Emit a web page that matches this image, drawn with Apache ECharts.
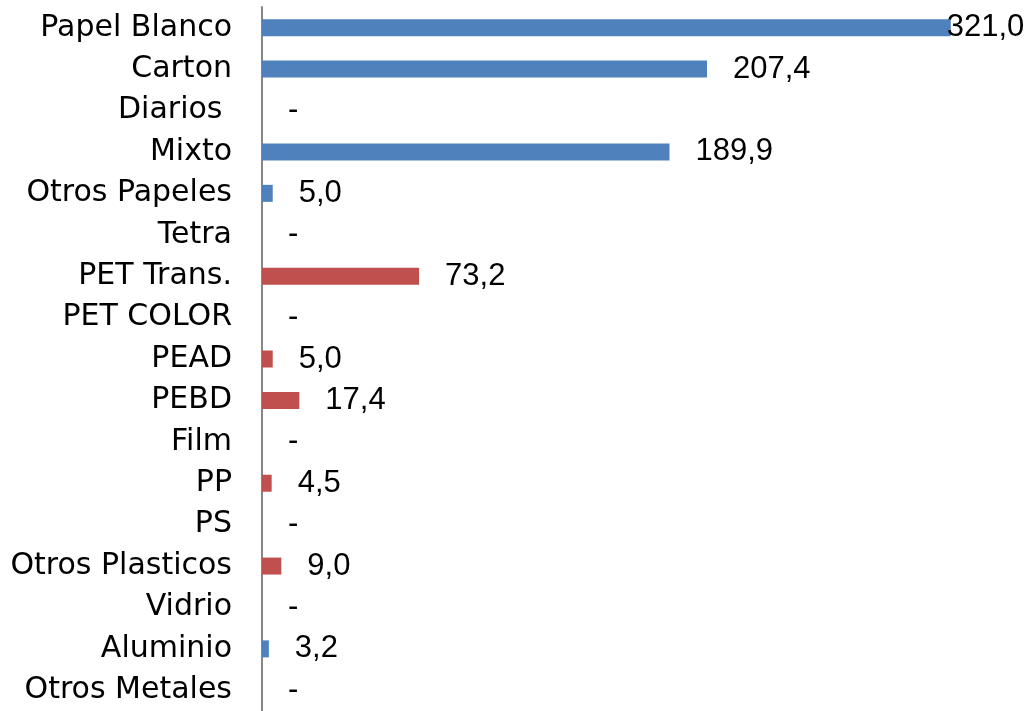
<!DOCTYPE html>
<html>
<head>
<meta charset="utf-8">
<script src="https://cdn.jsdelivr.net/npm/echarts@6/dist/echarts.min.js"></script>
<style>
  html, body { margin: 0; padding: 0; background: #fff; }
  #chart { width: 1033px; height: 711px; }
</style>
</head>
<body>
<div id="chart"></div>
<script>
const categories = ['Papel Blanco', 'Carton', 'Diarios ', 'Mixto', 'Otros Papeles', 'Tetra', 'PET Trans.', 'PET COLOR', 'PEAD', 'PEBD', 'Film', 'PP', 'PS', 'Otros Plasticos', 'Vidrio', 'Aluminio', 'Otros Metales']
const values = [321.0, 207.4, 0, 189.9, 5.0, 0, 73.2, 0, 5.0, 17.4, 0, 4.5, 0, 9.0, 0, 3.2, 0]
// grupo de material: papel / plastico / vidrio / metal
const groups = ['p', 'p', 'p', 'p', 'p', 'p', 'pl', 'pl', 'pl', 'pl', 'pl', 'pl', 'pl', 'pl', 'v', 'm', 'm']
const groupColors = { p: '#4F81BD', pl: '#C0504D', v: '#9BBB59', m: '#4F81BD' }

const myChart = echarts.init(document.getElementById('chart'))

myChart.setOption({
  animation: false,
  grid: {
    left: 262,
    right: 20,
    top: 7,
    height: 707,
  },
  xAxis: {
    type: 'value',
    min: 0,
    max: 350,
    show: false,
  },
  yAxis: {
    type: 'category',
    data: categories,
    inverse: true,
    axisTick: { show: false },
    axisLine: {
      show: true,
      lineStyle: { color: '#868686', width: 2 },
    },
    axisLabel: {
      color: '#000',
      fontFamily: 'DejaVu Sans',
      fontSize: 30,
      margin: 30,
    },
  },
  series: [
    {
      type: 'bar',
      barWidth: 17,
      data: values.map((v, i) => {
        const item = {
          value: v,
          itemStyle: { color: groupColors[groups[i]] },
        }
        // etiqueta recortada al borde, como en el original
        if (i === 0) item.label = { distance: -4 }
        return item
      }),
      label: {
        show: true,
        position: 'right',
        distance: 26,
        color: '#000',
        fontFamily: 'Liberation Sans',
        fontSize: 31,
        formatter: function (params) {
          return params.value === 0 ? '-' : params.value.toFixed(1).replace('.', ',')
        },
      },
    },
  ],
})
</script>
</body>
</html>
